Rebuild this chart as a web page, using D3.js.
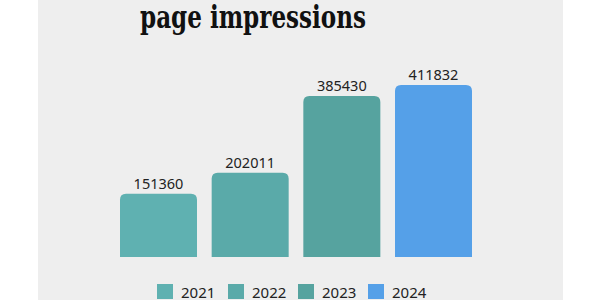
<!DOCTYPE html>
<html>
<head>
<meta charset="utf-8">
<script src="https://cdn.jsdelivr.net/npm/d3@7"></script>
<style>
  html, body { margin: 0; padding: 0; background: #ffffff; }
  svg { display: block; }
</style>
</head>
<body>
<div id="grafico"></div>
<script>
// datos
const years = ["2021", "2022", "2023", "2024"];
const impressions = [151360, 202011, 385430, 411832];
const colores = ["#5fb1b1", "#5aaaa9", "#56a39f", "#55a0e8"];
const titulo = "page impressions";

const width = 600;
const height = 300;
const panelLeft = 38;
const panelRight = 563;
const baseY = 257;
const topY = 85;

const svg = d3.select("#grafico")
  .append("svg")
  .attr("width", width)
  .attr("height", height);

// fondo gris
svg.append("rect")
  .attr("x", panelLeft)
  .attr("y", 0)
  .attr("width", panelRight - panelLeft)
  .attr("height", height)
  .attr("fill", "#eeeeee");

// titulo
svg.append("text")
  .attr("x", 253)
  .attr("y", 28)
  .attr("text-anchor", "middle")
  .attr("font-family", "'DejaVu Serif', serif")
  .attr("font-weight", "bold")
  .attr("font-stretch", "condensed")
  .attr("font-size", 31)
  .attr("textLength", 226)
  .attr("lengthAdjust", "spacingAndGlyphs")
  .attr("fill", "#111")
  .text(titulo);

// escalas
const xScale = d3.scaleBand()
  .domain(years)
  .range([120, 472])
  .paddingInner(0.16)
  .paddingOuter(0);

const yScale = d3.scaleLinear()
  .domain([0, 411832])
  .range([baseY, topY]);

// barras con esquinas superiores redondeadas
const r = 6;
const barPath = (x, y, w, h) =>
  `M${x},${y + h} V${y + r} Q${x},${y} ${x + r},${y} H${x + w - r} Q${x + w},${y} ${x + w},${y + r} V${y + h} Z`;

svg.selectAll("path.bar")
  .data(impressions)
  .enter()
  .append("path")
  .attr("class", "bar")
  .attr("d", (d, i) => barPath(xScale(years[i]), yScale(d), xScale.bandwidth(), baseY - yScale(d)))
  .attr("fill", (d, i) => colores[i]);

// etiquetas de valor
svg.selectAll("text.valor")
  .data(impressions)
  .enter()
  .append("text")
  .attr("class", "valor")
  .attr("x", (d, i) => xScale(years[i]) + xScale.bandwidth() / 2)
  .attr("y", d => yScale(d) - 5)
  .attr("text-anchor", "middle")
  .attr("font-family", "'Noto Sans', sans-serif")
  .attr("font-size", 14.5)
  .attr("fill", "#222")
  .text(d => d);

// leyenda
const legendX = [157, 228, 298, 368];
const leyenda = svg.selectAll("g.leyenda")
  .data(years)
  .enter()
  .append("g")
  .attr("class", "leyenda")
  .attr("transform", (d, i) => `translate(${legendX[i]},284)`);

leyenda.append("rect")
  .attr("width", 16)
  .attr("height", 15)
  .attr("fill", (d, i) => colores[i]);

leyenda.append("text")
  .attr("x", 24)
  .attr("y", 13.5)
  .attr("font-family", "'Noto Sans', sans-serif")
  .attr("font-size", 15)
  .attr("fill", "#222")
  .text(d => d);
</script>
</body>
</html>
